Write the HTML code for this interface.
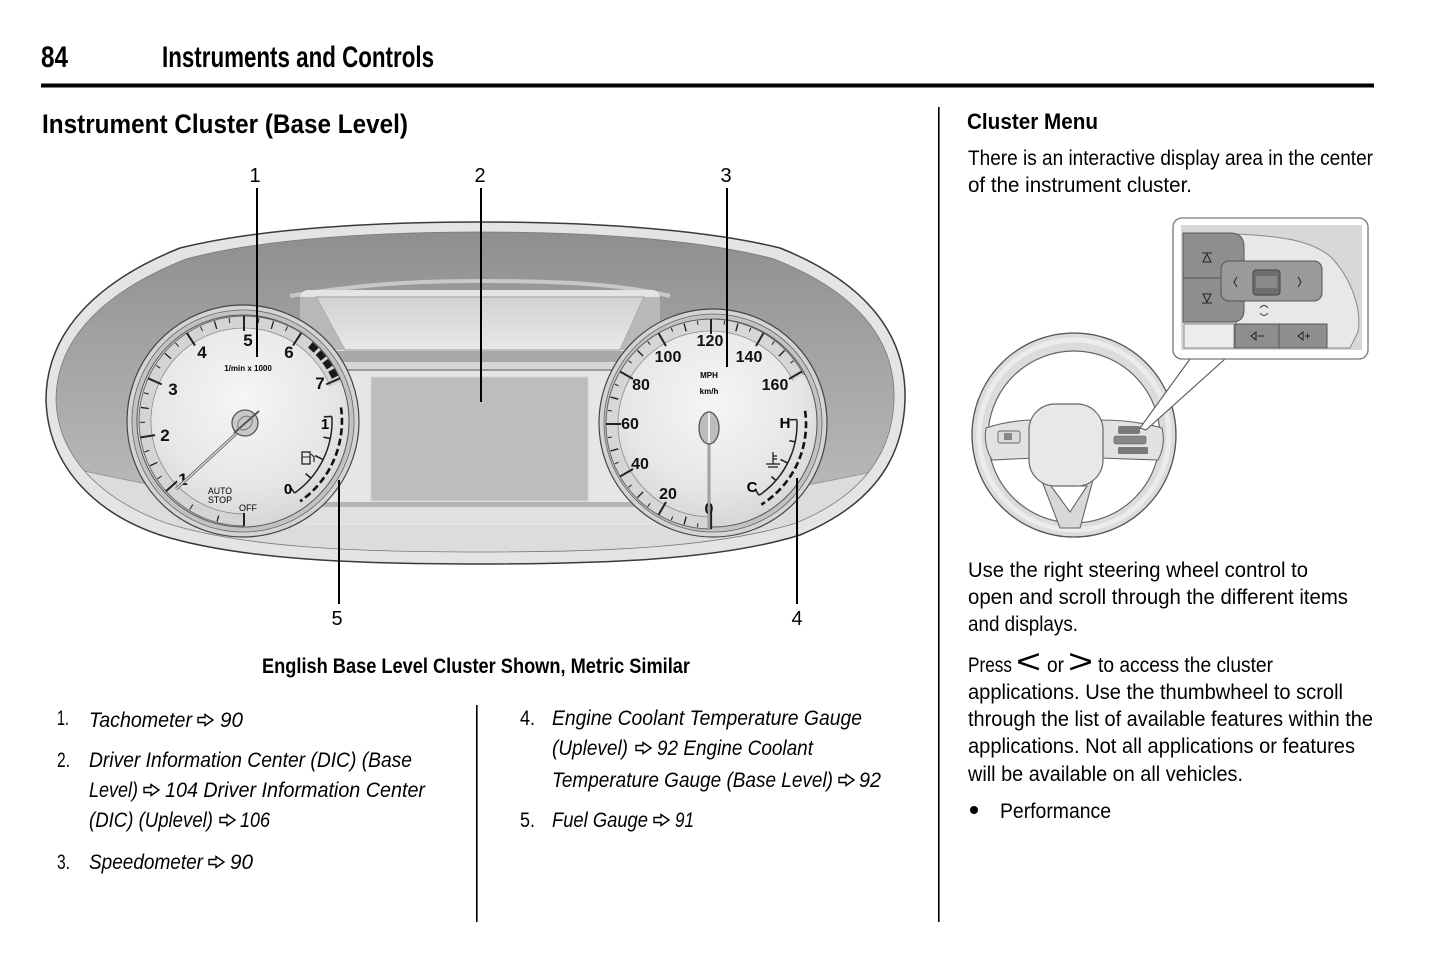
<!DOCTYPE html>
<html><head><meta charset="utf-8"><style>
html,body{margin:0;padding:0;background:#fff;}
svg{display:block;}
text{font-family:"Liberation Sans",sans-serif;}
</style></head><body>
<svg width="1445" height="959" viewBox="0 0 1445 959" xmlns="http://www.w3.org/2000/svg">
<defs>
<linearGradient id="hood" x1="0" y1="0" x2="0" y2="1">
<stop offset="0" stop-color="#8c8c8c"/><stop offset="0.35" stop-color="#a2a2a2"/><stop offset="1" stop-color="#c4c4c4"/>
</linearGradient>
<radialGradient id="face" cx="0.5" cy="0.4" r="0.6">
<stop offset="0" stop-color="#f6f6f6"/><stop offset="0.7" stop-color="#e6e6e6"/><stop offset="1" stop-color="#d6d6d6"/>
</radialGradient>
<linearGradient id="recess" x1="0" y1="0" x2="0" y2="1">
<stop offset="0" stop-color="#d2d2d2"/><stop offset="1" stop-color="#e8e8e8"/>
</linearGradient>
<clipPath id="hoodclip"><path d="M 56,400 C 56,336 108,290 186,259 C 264,238 382,232 480,232 C 578,232 696,238 774,259 C 852,290 896,336 894,400 C 892,462 852,500 796,523 C 716,548 600,552 480,552 C 360,552 244,548 166,523 C 108,502 58,462 56,400 Z"/></clipPath>
</defs>

<!-- Header -->
<text x="41" y="67" font-size="30" font-weight="bold" textLength="27" lengthAdjust="spacingAndGlyphs">84</text>
<text x="162" y="67" font-size="30" font-weight="bold" textLength="272" lengthAdjust="spacingAndGlyphs">Instruments and Controls</text>
<rect x="41" y="83.5" width="1333" height="4" fill="#000"/>
<text x="42" y="133" font-size="27" font-weight="bold" textLength="366" lengthAdjust="spacingAndGlyphs">Instrument Cluster (Base Level)</text>

<!-- dividers -->
<rect x="938" y="107" width="1.6" height="815" fill="#000"/>
<rect x="476" y="705" width="1.6" height="217" fill="#000"/>

<!-- ================= CLUSTER ================= -->
<path d="M 46,400 C 46,330 100,280 180,248 C 260,228 380,222 480,222 C 580,222 700,228 780,248 C 860,280 907,330 905,400 C 903,470 860,510 800,535 C 720,560 600,564 480,564 C 360,564 240,560 160,535 C 100,515 48,470 46,400 Z" fill="#e4e4e4" stroke="#3a3a3a" stroke-width="1.5"/>
<g clip-path="url(#hoodclip)">
<rect x="40" y="220" width="880" height="350" fill="url(#hood)"/>
<path d="M 80,470 Q 480,560 880,470 L 900,600 L 60,600 Z" fill="#dcdcdc" stroke="#9a9a9a" stroke-width="1"/>
</g>
<path d="M 56,400 C 56,336 108,290 186,259 C 264,238 382,232 480,232 C 578,232 696,238 774,259 C 852,290 896,336 894,400 C 892,462 852,500 796,523 C 716,548 600,552 480,552 C 360,552 244,548 166,523 C 108,502 58,462 56,400 Z" fill="none" stroke="#7a7a7a" stroke-width="0.8"/>
<!-- ledge line above recess -->
<path d="M 290,296 C 360,284 420,281 480,281 C 560,281 620,284 670,296" fill="none" stroke="#c8c8c8" stroke-width="4"/>
<!-- center recess -->
<rect x="300" y="290" width="360" height="235" rx="8" fill="#e4e4e4"/>
<path d="M 316,297 L 644,297 L 620,350 L 345,350 Z" fill="url(#recess)" stroke="#9a9a9a" stroke-width="1"/>
<path d="M 300,297 L 316,297 L 345,350 L 300,350 Z" fill="#b8b8b8"/>
<path d="M 644,297 L 660,297 L 660,350 L 620,350 Z" fill="#b8b8b8"/>
<rect x="300" y="351" width="360" height="11" fill="#a8a8a8"/>
<rect x="300" y="362" width="360" height="8" fill="#d6d6d6"/>
<rect x="300" y="369" width="360" height="2" fill="#9a9a9a"/>
<rect x="300" y="371" width="360" height="132" fill="#e6e6e6"/>
<rect x="300" y="502" width="360" height="5" fill="#b4b4b4"/>
<rect x="300" y="507" width="360" height="16" fill="#e0e0e0"/>
<!-- display -->
<rect x="371" y="377" width="217" height="124" fill="#bdbdbd" stroke="#d2d2d2" stroke-width="1"/>

<!-- ===== Tachometer ===== -->
<circle cx="243" cy="421" r="116" fill="#d4d4d4" stroke="#444" stroke-width="1.2"/>
<circle cx="243" cy="421" r="111" fill="#c2c2c2" stroke="#666" stroke-width="0.8"/>
<circle cx="243" cy="421" r="106" fill="url(#face)" stroke="#555" stroke-width="1"/>
<path d="M244,520 A99,99 0 1 1 335.8,383.9" fill="none" stroke="#d4d4d4" stroke-width="11"/>
<path d="M244,526 A105,105 0 1 1 341.4,381.7" fill="none" stroke="#666" stroke-width="1"/>
<path d="M244,514 A93,93 0 1 1 330.2,386.2" fill="none" stroke="#888" stroke-width="0.8"/>
<g stroke="#222" transform="translate(244,421)">
<line x1="0" y1="-92" x2="0" y2="-105" stroke-width="2" transform="rotate(180)"/>
<line x1="0" y1="-98" x2="0" y2="-104" stroke-width="1.3" transform="rotate(195)"/>
<line x1="0" y1="-98" x2="0" y2="-104" stroke-width="1" transform="rotate(211.5)"/>
<line x1="0" y1="-90" x2="0" y2="-105" stroke-width="2" transform="rotate(228)"/>
<line x1="0" y1="-99" x2="0" y2="-104" stroke-width="1" transform="rotate(236.25)"/>
<line x1="0" y1="-96" x2="0" y2="-104" stroke-width="1.3" transform="rotate(244.5)"/>
<line x1="0" y1="-99" x2="0" y2="-104" stroke-width="1" transform="rotate(252.75)"/>
<line x1="0" y1="-90" x2="0" y2="-105" stroke-width="2" transform="rotate(261)"/>
<line x1="0" y1="-99" x2="0" y2="-104" stroke-width="1" transform="rotate(269.25)"/>
<line x1="0" y1="-96" x2="0" y2="-104" stroke-width="1.3" transform="rotate(277.5)"/>
<line x1="0" y1="-99" x2="0" y2="-104" stroke-width="1" transform="rotate(285.75)"/>
<line x1="0" y1="-90" x2="0" y2="-105" stroke-width="2" transform="rotate(294)"/>
<line x1="0" y1="-99" x2="0" y2="-104" stroke-width="1" transform="rotate(302.25)"/>
<line x1="0" y1="-96" x2="0" y2="-104" stroke-width="1.3" transform="rotate(310.5)"/>
<line x1="0" y1="-99" x2="0" y2="-104" stroke-width="1" transform="rotate(318.75)"/>
<line x1="0" y1="-90" x2="0" y2="-105" stroke-width="2" transform="rotate(327)"/>
<line x1="0" y1="-99" x2="0" y2="-104" stroke-width="1" transform="rotate(335.25)"/>
<line x1="0" y1="-96" x2="0" y2="-104" stroke-width="1.3" transform="rotate(343.5)"/>
<line x1="0" y1="-99" x2="0" y2="-104" stroke-width="1" transform="rotate(351.75)"/>
<line x1="0" y1="-90" x2="0" y2="-105" stroke-width="2" transform="rotate(360)"/>
<line x1="0" y1="-99" x2="0" y2="-104" stroke-width="1" transform="rotate(368.25)"/>
<line x1="0" y1="-96" x2="0" y2="-104" stroke-width="1.3" transform="rotate(376.5)"/>
<line x1="0" y1="-99" x2="0" y2="-104" stroke-width="1" transform="rotate(384.75)"/>
<line x1="0" y1="-90" x2="0" y2="-105" stroke-width="2" transform="rotate(393)"/>
<line x1="0" y1="-90" x2="0" y2="-105" stroke-width="2" transform="rotate(426)"/>
</g>
<path d="M310.3,344.8 A101,101 0 0 1 336.3,379.9" fill="none" stroke="#1a1a1a" stroke-width="7" stroke-dasharray="8 3"/>
<g font-size="17" font-weight="bold" text-anchor="middle" fill="#111">
<text x="183" y="485">1</text><text x="165" y="441">2</text><text x="173" y="395">3</text>
<text x="202" y="358">4</text><text x="248" y="346">5</text><text x="289" y="358">6</text><text x="320" y="389">7</text>
</g>
<text x="248" y="371" font-size="8" font-weight="bold" text-anchor="middle">1/min x 1000</text>
<text x="220" y="494" font-size="9" text-anchor="middle" textLength="24" lengthAdjust="spacingAndGlyphs">AUTO</text>
<text x="220" y="503" font-size="9" text-anchor="middle" textLength="24" lengthAdjust="spacingAndGlyphs">STOP</text>
<text x="248" y="511" font-size="9" text-anchor="middle" textLength="18" lengthAdjust="spacingAndGlyphs">OFF</text>
<!-- fuel gauge -->
<path d="M331.9,416.4 A88,88 0 0 1 294.5,493.1" fill="none" stroke="#222" stroke-width="1.5"/>
<g stroke="#222" stroke-width="1.6" transform="translate(244,421)">
<line x1="80" y1="0" x2="88" y2="0" transform="rotate(-3)"/>
<line x1="81" y1="0" x2="88" y2="0" transform="rotate(11.5)"/>
<line x1="79" y1="0" x2="88" y2="0" transform="rotate(26)"/>
<line x1="81" y1="0" x2="88" y2="0" transform="rotate(40.5)"/>
<line x1="80" y1="0" x2="88" y2="0" transform="rotate(55)"/>
</g>
<path d="M341,407.4 A98,98 0 0 1 300.2,501.3" fill="none" stroke="#111" stroke-width="2.6" stroke-dasharray="7 3.5"/>
<text x="325" y="429" font-size="15" font-weight="bold" text-anchor="middle">1</text>
<text x="288" y="494" font-size="15" font-weight="bold" text-anchor="middle">0</text>
<rect x="302" y="452" width="8" height="12" fill="none" stroke="#222" stroke-width="1.3"/>
<line x1="302" y1="457" x2="310" y2="457" stroke="#222" stroke-width="1"/>
<path d="M311,454 l3,3 v5" fill="none" stroke="#222" stroke-width="1.2"/>
<!-- tach needle/hub -->
<line x1="238" y1="432" x2="176" y2="489" stroke="#666" stroke-width="3"/>
<line x1="238" y1="432" x2="176" y2="489" stroke="#ddd" stroke-width="1.2"/>
<circle cx="245" cy="423" r="13" fill="#c8c8c8" stroke="#555" stroke-width="1.3"/>
<line x1="234" y1="433" x2="259" y2="411" stroke="#555" stroke-width="2"/>
<ellipse cx="245" cy="423" rx="8" ry="6" fill="none" stroke="#777" stroke-width="1" transform="rotate(-40 245 423)"/>

<!-- ===== Speedometer ===== -->
<circle cx="713" cy="423" r="114" fill="#d4d4d4" stroke="#444" stroke-width="1.2"/>
<circle cx="713" cy="423" r="109" fill="#c2c2c2" stroke="#666" stroke-width="0.8"/>
<circle cx="713" cy="423" r="104" fill="url(#face)" stroke="#555" stroke-width="1"/>
<path d="M711,523 A99,99 0 1 1 798.4,377.6" fill="none" stroke="#d6d6d6" stroke-width="11"/>
<path d="M711,529 A105,105 0 1 1 803.7,374.8" fill="none" stroke="#666" stroke-width="1"/>
<path d="M711,517 A93,93 0 1 1 793.1,380.4" fill="none" stroke="#888" stroke-width="0.8"/>
<g stroke="#222" transform="translate(711,424)">
<line x1="0" y1="-88" x2="0" y2="-105" stroke-width="2.2" transform="rotate(180)"/>
<line x1="0" y1="-100" x2="0" y2="-104" stroke-width="1" transform="rotate(187.5)"/>
<line x1="0" y1="-96" x2="0" y2="-104" stroke-width="1.4" transform="rotate(195)"/>
<line x1="0" y1="-100" x2="0" y2="-104" stroke-width="1" transform="rotate(202.5)"/>
<line x1="0" y1="-90" x2="0" y2="-105" stroke-width="2" transform="rotate(210)"/>
<line x1="0" y1="-100" x2="0" y2="-104" stroke-width="1" transform="rotate(217.5)"/>
<line x1="0" y1="-96" x2="0" y2="-104" stroke-width="1.4" transform="rotate(225)"/>
<line x1="0" y1="-100" x2="0" y2="-104" stroke-width="1" transform="rotate(232.5)"/>
<line x1="0" y1="-90" x2="0" y2="-105" stroke-width="2" transform="rotate(240)"/>
<line x1="0" y1="-100" x2="0" y2="-104" stroke-width="1" transform="rotate(247.5)"/>
<line x1="0" y1="-96" x2="0" y2="-104" stroke-width="1.4" transform="rotate(255)"/>
<line x1="0" y1="-100" x2="0" y2="-104" stroke-width="1" transform="rotate(262.5)"/>
<line x1="0" y1="-90" x2="0" y2="-105" stroke-width="2" transform="rotate(270)"/>
<line x1="0" y1="-100" x2="0" y2="-104" stroke-width="1" transform="rotate(277.5)"/>
<line x1="0" y1="-96" x2="0" y2="-104" stroke-width="1.4" transform="rotate(285)"/>
<line x1="0" y1="-100" x2="0" y2="-104" stroke-width="1" transform="rotate(292.5)"/>
<line x1="0" y1="-90" x2="0" y2="-105" stroke-width="2" transform="rotate(300)"/>
<line x1="0" y1="-100" x2="0" y2="-104" stroke-width="1" transform="rotate(307.5)"/>
<line x1="0" y1="-96" x2="0" y2="-104" stroke-width="1.4" transform="rotate(315)"/>
<line x1="0" y1="-100" x2="0" y2="-104" stroke-width="1" transform="rotate(322.5)"/>
<line x1="0" y1="-90" x2="0" y2="-105" stroke-width="2" transform="rotate(330)"/>
<line x1="0" y1="-100" x2="0" y2="-104" stroke-width="1" transform="rotate(337.5)"/>
<line x1="0" y1="-96" x2="0" y2="-104" stroke-width="1.4" transform="rotate(345)"/>
<line x1="0" y1="-100" x2="0" y2="-104" stroke-width="1" transform="rotate(352.5)"/>
<line x1="0" y1="-90" x2="0" y2="-105" stroke-width="2" transform="rotate(360)"/>
<line x1="0" y1="-100" x2="0" y2="-104" stroke-width="1" transform="rotate(367.5)"/>
<line x1="0" y1="-96" x2="0" y2="-104" stroke-width="1.4" transform="rotate(375)"/>
<line x1="0" y1="-100" x2="0" y2="-104" stroke-width="1" transform="rotate(382.5)"/>
<line x1="0" y1="-90" x2="0" y2="-105" stroke-width="2" transform="rotate(390)"/>
<line x1="0" y1="-100" x2="0" y2="-104" stroke-width="1" transform="rotate(397.5)"/>
<line x1="0" y1="-96" x2="0" y2="-104" stroke-width="1.4" transform="rotate(405)"/>
<line x1="0" y1="-100" x2="0" y2="-104" stroke-width="1" transform="rotate(412.5)"/>
<line x1="0" y1="-90" x2="0" y2="-105" stroke-width="2" transform="rotate(420)"/>
</g>
<g font-size="16" font-weight="bold" text-anchor="middle" fill="#111">
<text x="709" y="514">0</text><text x="668" y="499">20</text><text x="640" y="469">40</text>
<text x="630" y="429">60</text><text x="641" y="390">80</text><text x="668" y="362">100</text>
<text x="710" y="346">120</text><text x="749" y="362">140</text><text x="775" y="390">160</text>
</g>
<text x="709" y="378" font-size="8" font-weight="bold" text-anchor="middle">MPH</text>
<text x="709" y="394" font-size="8" font-weight="bold" text-anchor="middle">km/h</text>
<!-- temp gauge -->
<path d="M796.9,419.5 A86,86 0 0 1 759.1,495.3" fill="none" stroke="#222" stroke-width="1.5"/>
<g stroke="#222" stroke-width="1.6" transform="translate(711,424)">
<line x1="79" y1="0" x2="86" y2="0" transform="rotate(-3)"/>
<line x1="80" y1="0" x2="86" y2="0" transform="rotate(12)"/>
<line x1="78" y1="0" x2="86" y2="0" transform="rotate(27)"/>
<line x1="80" y1="0" x2="86" y2="0" transform="rotate(41)"/>
<line x1="79" y1="0" x2="86" y2="0" transform="rotate(56)"/>
</g>
<path d="M805.1,410.8 A95,95 0 0 1 761.3,504.6" fill="none" stroke="#111" stroke-width="2.6" stroke-dasharray="7 3.5"/>
<text x="785" y="428" font-size="15" font-weight="bold" text-anchor="middle">H</text>
<text x="752" y="492" font-size="15" font-weight="bold" text-anchor="middle">C</text>
<g stroke="#222" stroke-width="1.3" fill="none">
<line x1="773" y1="452" x2="773" y2="464"/><line x1="766" y1="464" x2="780" y2="464"/><line x1="768" y1="467" x2="778" y2="467"/><line x1="773" y1="456" x2="777" y2="456"/><line x1="773" y1="459" x2="777" y2="459"/>
</g>
<!-- speedo needle/hub -->
<line x1="709" y1="440" x2="709" y2="530" stroke="#666" stroke-width="2.6"/>
<line x1="709" y1="440" x2="709" y2="530" stroke="#ddd" stroke-width="1"/>
<ellipse cx="709" cy="428" rx="10" ry="16" fill="#bcbcbc" stroke="#555" stroke-width="1.3"/>
<line x1="709" y1="413" x2="709" y2="443" stroke="#eee" stroke-width="2"/>

<!-- callouts -->
<g stroke="#000" stroke-width="2">
<line x1="257" y1="188" x2="257" y2="357"/>
<line x1="481" y1="188" x2="481" y2="402"/>
<line x1="727" y1="188" x2="727" y2="367"/>
<line x1="339" y1="480" x2="339" y2="604"/>
<line x1="797" y1="478" x2="797" y2="604"/>
</g>
<g font-size="20" text-anchor="middle">
<text x="255" y="182">1</text><text x="480" y="182">2</text><text x="726" y="182">3</text>
<text x="337" y="625">5</text><text x="797" y="625">4</text>
</g>

<text x="262" y="673" font-size="21" font-weight="bold" textLength="428" lengthAdjust="spacingAndGlyphs">English Base Level Cluster Shown, Metric Similar</text>

<!-- Left list -->
<g font-size="21">
<text x="57" y="725" textLength="12" lengthAdjust="spacingAndGlyphs">1.</text>
<text x="57" y="767" textLength="13" lengthAdjust="spacingAndGlyphs">2.</text>
<text x="57" y="869" textLength="13" lengthAdjust="spacingAndGlyphs">3.</text>
<text x="520" y="725" textLength="15" lengthAdjust="spacingAndGlyphs">4.</text>
<text x="520" y="827" textLength="15" lengthAdjust="spacingAndGlyphs">5.</text>
</g>
<g font-size="21" font-style="italic">
<text x="89" y="727" textLength="103" lengthAdjust="spacingAndGlyphs">Tachometer</text>
<text x="220" y="727" textLength="23" lengthAdjust="spacingAndGlyphs">90</text>
<text x="89" y="767" textLength="323" lengthAdjust="spacingAndGlyphs">Driver Information Center (DIC) (Base</text>
<text x="89" y="797" textLength="49" lengthAdjust="spacingAndGlyphs">Level)</text>
<text x="165" y="797" textLength="260" lengthAdjust="spacingAndGlyphs">104 Driver Information Center</text>
<text x="89" y="827" textLength="124" lengthAdjust="spacingAndGlyphs">(DIC) (Uplevel)</text>
<text x="240" y="827" textLength="30" lengthAdjust="spacingAndGlyphs">106</text>
<text x="89" y="869" textLength="114" lengthAdjust="spacingAndGlyphs">Speedometer</text>
<text x="230" y="869" textLength="23" lengthAdjust="spacingAndGlyphs">90</text>

<text x="552" y="725" textLength="310" lengthAdjust="spacingAndGlyphs">Engine Coolant Temperature Gauge</text>
<text x="552" y="755" textLength="76" lengthAdjust="spacingAndGlyphs">(Uplevel)</text>
<text x="657" y="755" textLength="156" lengthAdjust="spacingAndGlyphs">92 Engine Coolant</text>
<text x="552" y="787" textLength="281" lengthAdjust="spacingAndGlyphs">Temperature Gauge (Base Level)</text>
<text x="859" y="787" textLength="22" lengthAdjust="spacingAndGlyphs">92</text>
<text x="552" y="827" textLength="96" lengthAdjust="spacingAndGlyphs">Fuel Gauge</text>
<text x="675" y="827" textLength="19" lengthAdjust="spacingAndGlyphs">91</text>
</g>
<!-- page-ref arrows -->
<g fill="none" stroke="#000" stroke-width="1.4" stroke-linejoin="miter">
<path transform="translate(197,714)" d="M1,3.5 H8 V0.5 L16,6 L8,11.5 V8.5 H1 Z"/>
<path transform="translate(143,784)" d="M1,3.5 H8 V0.5 L16,6 L8,11.5 V8.5 H1 Z"/>
<path transform="translate(219,814)" d="M1,3.5 H8 V0.5 L16,6 L8,11.5 V8.5 H1 Z"/>
<path transform="translate(208,856)" d="M1,3.5 H8 V0.5 L16,6 L8,11.5 V8.5 H1 Z"/>
<path transform="translate(635,742)" d="M1,3.5 H8 V0.5 L16,6 L8,11.5 V8.5 H1 Z"/>
<path transform="translate(838,774)" d="M1,3.5 H8 V0.5 L16,6 L8,11.5 V8.5 H1 Z"/>
<path transform="translate(653,814)" d="M1,3.5 H8 V0.5 L16,6 L8,11.5 V8.5 H1 Z"/>
</g>

<!-- ================= Right column ================= -->
<text x="967" y="129" font-size="22" font-weight="bold" textLength="131" lengthAdjust="spacingAndGlyphs">Cluster Menu</text>
<g font-size="21">
<text x="968" y="165" textLength="405" lengthAdjust="spacingAndGlyphs">There is an interactive display area in the center</text>
<text x="968" y="192" textLength="224" lengthAdjust="spacingAndGlyphs">of the instrument cluster.</text>
<text x="968" y="577" textLength="340" lengthAdjust="spacingAndGlyphs">Use the right steering wheel control to</text>
<text x="968" y="604" textLength="380" lengthAdjust="spacingAndGlyphs">open and scroll through the different items</text>
<text x="968" y="631" textLength="110" lengthAdjust="spacingAndGlyphs">and displays.</text>
<text x="968" y="672" textLength="44" lengthAdjust="spacingAndGlyphs">Press</text>
<text x="1047" y="672" textLength="17" lengthAdjust="spacingAndGlyphs">or</text>
<text x="1098" y="672" textLength="175" lengthAdjust="spacingAndGlyphs">to access the cluster</text>
<text x="968" y="699" textLength="375" lengthAdjust="spacingAndGlyphs">applications. Use the thumbwheel to scroll</text>
<text x="968" y="726" textLength="405" lengthAdjust="spacingAndGlyphs">through the list of available features within the</text>
<text x="968" y="753" textLength="387" lengthAdjust="spacingAndGlyphs">applications. Not all applications or features</text>
<text x="968" y="781" textLength="275" lengthAdjust="spacingAndGlyphs">will be available on all vehicles.</text>
<text x="1000" y="818" textLength="111" lengthAdjust="spacingAndGlyphs">Performance</text>
</g>
<text x="1016" y="673" font-size="34" font-weight="normal" textLength="25" lengthAdjust="spacingAndGlyphs">&lt;</text>
<text x="1068" y="673" font-size="34" font-weight="normal" textLength="25" lengthAdjust="spacingAndGlyphs">&gt;</text>
<circle cx="974" cy="810" r="4" fill="#000"/>

<!-- Steering wheel -->
<circle cx="1074" cy="435" r="102" fill="#dcdcdc" stroke="#555" stroke-width="1.3"/>
<circle cx="1074" cy="435" r="95" fill="none" stroke="#ececec" stroke-width="5"/>
<circle cx="1074" cy="437" r="86" fill="#fff" stroke="#666" stroke-width="1.2"/>
<path d="M 1060,470 L 1074,523 L 1088,470" fill="none" stroke="#ccc" stroke-width="1"/>
<path d="M 986,428 Q 1010,420 1035,420 L 1035,458 L 992,460 Q 983,445 986,428 Z" fill="#e2e2e2" stroke="#666" stroke-width="1.1"/>
<path d="M 1100,420 Q 1135,420 1162,428 Q 1166,445 1158,460 L 1100,458 Z" fill="#e2e2e2" stroke="#666" stroke-width="1.1"/>
<path d="M 1040,476 L 1094,476 L 1080,528 L 1060,528 Z" fill="#d8d8d8" stroke="#666" stroke-width="1.1"/>
<path d="M 1051,486 L 1087,486 L 1070,512 Z" fill="#fff" stroke="#666" stroke-width="1.1"/>
<rect x="1029" y="404" width="74" height="82" rx="26" fill="#e8e8e8" stroke="#666" stroke-width="1.2"/>
<rect x="998" y="431" width="22" height="12" rx="2" fill="#dcdcdc" stroke="#666" stroke-width="0.9"/>
<rect x="1004" y="433" width="8" height="7" fill="#888"/>
<rect x="1118" y="426" width="22" height="8" rx="2" fill="#7a7a7a"/>
<rect x="1114" y="436" width="32" height="8" rx="2" fill="#888" stroke="#555" stroke-width="0.6"/>
<rect x="1118" y="447" width="30" height="7" rx="1" fill="#7a7a7a"/>
<!-- callout wedge -->
<path d="M 1190,359 L 1140,428 L 1146,430 L 1225,359" fill="#fff" stroke="#555" stroke-width="1.1"/>
<!-- inset -->
<rect x="1173" y="218" width="195" height="141" rx="9" fill="#fff" stroke="#777" stroke-width="1.3"/>
<rect x="1181" y="225" width="181" height="125" fill="#d8d8d8"/>
<path d="M 1236,234 C 1280,236 1312,240 1332,258 C 1352,280 1362,310 1358,332 L 1350,348 L 1236,348 Z" fill="#e8e8e8" stroke="#888" stroke-width="1"/>
<path d="M 1183,233 L 1230,233 Q 1244,233 1244,247 L 1244,310 Q 1244,322 1232,322 L 1183,322 Z" fill="#8e8e8e" stroke="#555" stroke-width="1"/>
<line x1="1183" y1="278" x2="1222" y2="278" stroke="#555" stroke-width="1"/>
<path d="M 1203,262 L 1207,254 L 1211,262 Z M 1202,253 L 1212,253" fill="none" stroke="#222" stroke-width="1"/>
<path d="M 1203,294 L 1207,302 L 1211,294 Z M 1202,303 L 1212,303" fill="none" stroke="#222" stroke-width="1"/>
<rect x="1221" y="261" width="101" height="40" rx="8" fill="#9a9a9a" stroke="#555" stroke-width="1"/>
<path d="M 1237,277 L 1234,282 L 1237,287" fill="none" stroke="#222" stroke-width="1"/>
<path d="M 1298,277 L 1301,282 L 1298,287" fill="none" stroke="#222" stroke-width="1"/>
<rect x="1253" y="270" width="27" height="25" rx="3" fill="#6e6e6e" stroke="#444" stroke-width="1"/>
<rect x="1256" y="276" width="21" height="12" fill="#8a8a8a"/>
<path d="M 1260,308 Q 1264,303 1268,308 M 1260,313 Q 1264,318 1268,313" fill="none" stroke="#333" stroke-width="1"/>
<rect x="1184" y="324" width="50" height="24" fill="#ececec" stroke="#888" stroke-width="1"/>
<rect x="1235" y="324" width="44" height="24" fill="#8e8e8e" stroke="#555" stroke-width="1"/>
<rect x="1279" y="324" width="48" height="24" fill="#8e8e8e" stroke="#555" stroke-width="1"/>
<path d="M 1251,336 L 1256,332 L 1256,340 Z M 1258,336 L 1264,336" fill="none" stroke="#222" stroke-width="1"/>
<path d="M 1298,336 L 1303,332 L 1303,340 Z M 1305,336 L 1310,336 M 1307.5,333.5 L 1307.5,338.5" fill="none" stroke="#222" stroke-width="1"/>
</svg>
</body></html>
